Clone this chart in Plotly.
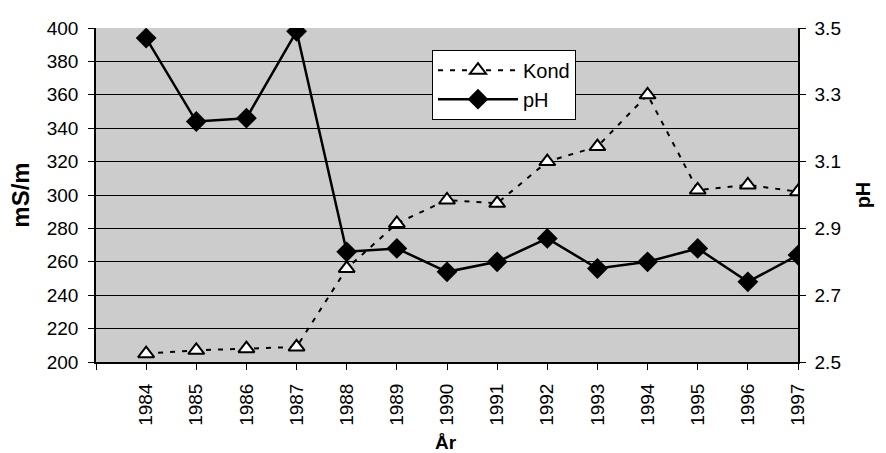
import plotly.graph_objects as go

years = [1984, 1985, 1986, 1987, 1988, 1989, 1990, 1991, 1992, 1993, 1994, 1995, 1996, 1997]
kond = [205, 207, 208, 209, 256, 283, 297, 295, 320, 329, 360, 303, 306, 302]
ph = [3.47, 3.22, 3.23, 3.49, 2.83, 2.84, 2.77, 2.80, 2.87, 2.78, 2.80, 2.84, 2.74, 2.82]

left_ticks = list(range(200, 401, 20))
right_ticks = [2.5, 2.7, 2.9, 3.1, 3.3, 3.5]

FONT = "Liberation Sans, Arial, sans-serif"

fig = go.Figure()
fig.add_trace(go.Scatter(
    x=years, y=kond, name="Kond", mode="lines+markers",
    line=dict(color="black", width=2, dash="5px,7px"),
    marker=dict(symbol="triangle-up", size=14, color="white",
                line=dict(color="black", width=2)),
    yaxis="y"))
fig.add_trace(go.Scatter(
    x=years, y=ph, name="pH", mode="lines+markers",
    line=dict(color="black", width=2.5),
    marker=dict(symbol="diamond", size=16, color="black"),
    yaxis="y2"))

fig.update_layout(
    width=886, height=453,
    margin=dict(l=96, r=88, t=28, b=91),
    paper_bgcolor="white", plot_bgcolor="#cccccc",
    font=dict(family=FONT, size=19, color="black"),
    showlegend=True,
    legend=dict(x=0.4786, y=0.935, xanchor="left", yanchor="top",
                bgcolor="white", bordercolor="black", borderwidth=1,
                font=dict(size=20), itemwidth=80, tracegroupgap=0),
    xaxis=dict(range=[1983, 1997], tickmode="array",
               tickvals=[1983] + years, ticktext=[""] + [str(y) for y in years],
               tickangle=-90, ticks="outside", ticklen=6, tickcolor="black",
               ticklabelstandoff=6, automargin=False,
               showgrid=False, showline=True, linecolor="black", linewidth=2,
               zeroline=False),
    yaxis=dict(range=[200, 400], tickmode="array", tickvals=left_ticks,
               ticks="outside", ticklen=6, tickcolor="black",
               ticklabelstandoff=6, automargin=False,
               showgrid=True, gridcolor="black", gridwidth=1,
               showline=True, linecolor="black", linewidth=1.5,
               zeroline=False,
               title=dict(text="<b>mS/m</b>", font=dict(size=24), standoff=10)),
    yaxis2=dict(range=[2.5, 3.5], overlaying="y", side="right",
                tickmode="array", tickvals=right_ticks,
                ticktext=[f"{v:.1f}" for v in right_ticks],
                ticks="outside", ticklen=6, tickcolor="black",
                ticklabelstandoff=5, automargin=False,
                showgrid=False, showline=True, linecolor="black", linewidth=1.5,
                zeroline=False,
                title=dict(text="<b>pH</b>", font=dict(size=20), standoff=16)),
    annotations=[dict(text="<b>År</b>", xref="paper", yref="paper",
                      x=0.4986, y=-0.2425, xanchor="center", yanchor="middle",
                      showarrow=False, font=dict(size=19))],
)

fig.write_html("out.html",
               config={"displayModeBar": False},
               post_script="document.body.style.margin='0';document.body.style.overflow='hidden';")
